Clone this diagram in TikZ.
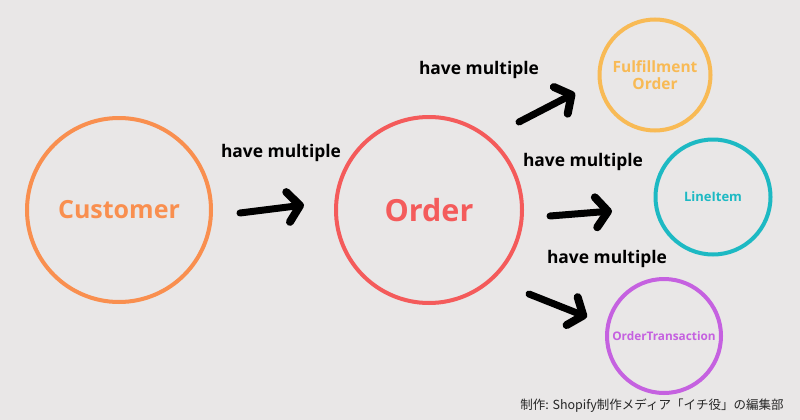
\documentclass[tikz,border=0pt]{standalone}
\usepackage{fontspec}
\setmainfont{Open Sans}
\newfontfamily\cjk{Noto Sans CJK JP}
\usetikzlibrary{arrows.meta}
\definecolor{bg}{HTML}{E9E7E7}
\definecolor{cOrange}{HTML}{F98F4F}
\definecolor{cRed}{HTML}{F45B5B}
\definecolor{cYellow}{HTML}{F8BA55}
\definecolor{cCyan}{HTML}{1DB9C3}
\definecolor{cPurple}{HTML}{C561E0}
\tikzset{
  ring/.style={circle, draw=#1, line width=4pt, text=#1, font=\bfseries, align=center, inner sep=0pt},
  lbl/.style={font=\bfseries\fontsize{17.4}{20}\selectfont, text=black},
  brush/.style={line width=7pt, line cap=round, draw=black, -{Straight Barb[length=12pt, width=30pt, line width=8pt, round]}},
}
\begin{document}
\begin{tikzpicture}[x=1pt,y=-1pt]
\fill[bg] (0,0) rectangle (800,420);
\useasboundingbox (0,0) rectangle (800,420);

\node[ring=cOrange, minimum size=184pt, font=\bfseries\fontsize{25}{30}\selectfont] (cust) at (119,210) {Customer};
\node[ring=cRed, minimum size=186pt, font=\bfseries\fontsize{30.5}{36}\selectfont] (order) at (429,210) {Order};
\node[ring=cYellow, minimum size=111pt, font=\bfseries\fontsize{15.5}{17}\selectfont] (ful) at (655,75) {Fulfillment\\Order};
\node[ring=cCyan, minimum size=115pt, font=\bfseries\fontsize{13}{15}\selectfont] (li) at (713,197) {LineItem};
\node[ring=cPurple, minimum size=114pt, font=\bfseries\fontsize{11.8}{14}\selectfont] (ot) at (664,336) {OrderTransaction};

\node[lbl] (l1) at (281,152.5) {have multiple};
\node[lbl] (l2) at (479,69.5) {have multiple};
\node[lbl] (l3) at (583,161.5) {have multiple};
\node[lbl] (l4) at (607,258.5) {have multiple};

\coordinate (a1s) at (240,213);
\coordinate (a1e) at (304,205);
\coordinate (a2s) at (519,122);
\coordinate (a2e) at (575,93);
\coordinate (a3s) at (550,216);
\coordinate (a3e) at (612,211);
\coordinate (a4s) at (529,294);
\coordinate (a4e) at (587,317);
\draw[brush] (a1s) -- (a1e);
\draw[brush] (a2s) -- (a2e);
\draw[brush] (a3s) -- (a3e);
\draw[brush] (a4s) -- (a4e);

\node[font=\cjk\fontsize{12.5}{15}\selectfont, text=black!85] (credit) at (652,406) {制作: Shopify制作メディア「イチ役」の編集部};
\end{tikzpicture}
\end{document}
